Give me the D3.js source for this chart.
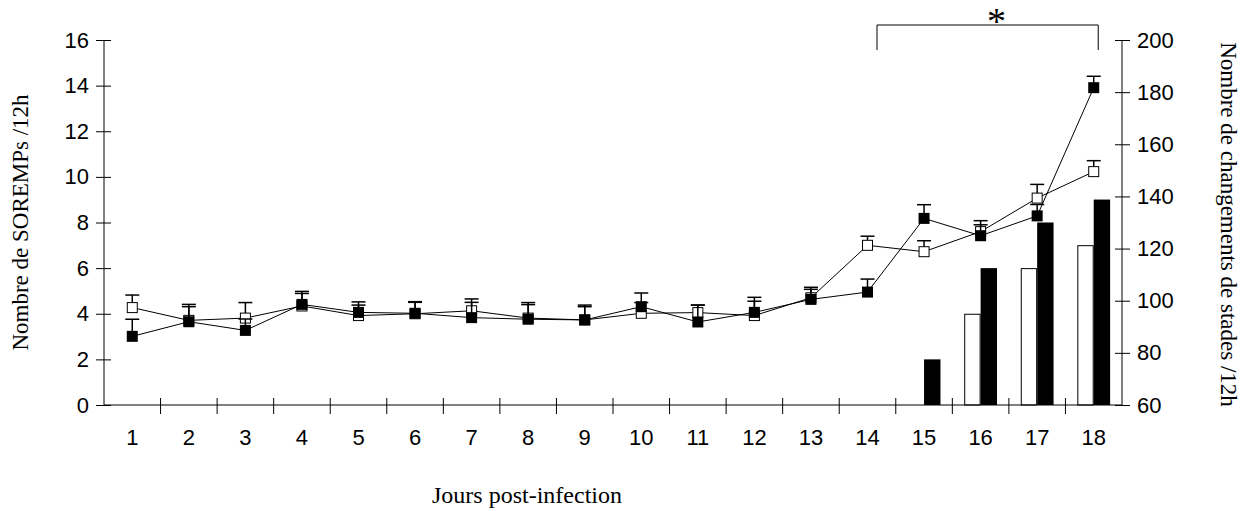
<!DOCTYPE html>
<html>
<head>
<meta charset="utf-8">
<script src="https://cdn.jsdelivr.net/npm/d3@7"></script>
<style>
  body { margin: 0; background: #fff; }
  svg { display: block; }
</style>
</head>
<body>
<svg id="chart" width="1253" height="511"></svg>
<script>
// Days post-infection
const days = ["1","2","3","4","5","6","7","8","9","10","11","12","13","14","15","16","17","18"];

// SOREMPs per 12h (left axis): mean and standard error, open and filled groups
const soremOpen     = [4.27, 3.71, 3.81, 4.34, 3.92, 4.00, 4.13, 3.81, 3.73, 4.02, 4.05, 3.92, 4.70, 7.00, 6.72, 7.60, 9.07, 10.23];
const soremOpenErr  = [0.55, 0.70, 0.68, 0.55, 0.60, 0.50, 0.52, 0.68, 0.65, 0.47, 0.33, 0.63, 0.46, 0.40, 0.48, 0.48, 0.60, 0.48];
const soremFilled    = [3.01, 3.65, 3.27, 4.41, 4.06, 4.02, 3.83, 3.76, 3.73, 4.31, 3.64, 4.06, 4.63, 4.95, 8.18, 7.42, 8.29, 13.91];
const soremFilledErr = [0.75, 0.66, 0.50, 0.57, 0.32, 0.51, 0.67, 0.64, 0.58, 0.60, 0.74, 0.66, 0.44, 0.57, 0.60, 0.48, 0.50, 0.50];

// Stage changes per 12h (right axis); null = no bar
const stageOpen   = [null, null, null, null, null, null, null, null, null, null, null, null, null, null, null, 95, 112.5, 121.3];
const stageFilled = [null, null, null, null, null, null, null, null, null, null, null, null, null, null, 77.5, 112.5, 130, 138.8];

const leftTicks  = [0, 2, 4, 6, 8, 10, 12, 14, 16];
const rightTicks = [60, 80, 100, 120, 140, 160, 180, 200];

const leftTitle  = "Nombre de SOREMPs /12h";
const rightTitle = "Nombre de changements de stades /12h";
const xTitle     = "Jours post-infection";

const W = 1253, H = 511;
const margin = { top: 40, right: 131, bottom: 106, left: 104 };
const x0 = margin.left, x1 = W - margin.right;
const y0 = H - margin.bottom, y1 = margin.top;

const svg = d3.select("#chart");

const x  = d3.scaleBand().domain(days).range([x0, x1]).padding(0);
const yL = d3.scaleLinear().domain([0, 16]).range([y0, y1]);
const yR = d3.scaleLinear().domain([60, 200]).range([y0, y1]);
const bw = x.bandwidth();
const cx = d => x(d) + bw / 2;
const barW = bw * 0.29;

const sans  = "'Liberation Sans', Arial, sans-serif";
const serif = "'Liberation Serif', 'Times New Roman', serif";
const ink = "#000";

// Bars (right axis)
const bars = svg.append("g");
bars.selectAll("rect.open")
  .data(days.map((d, i) => ({ d, v: stageOpen[i] })).filter(o => o.v != null))
  .join("rect")
  .attr("x", o => cx(o.d) - barW + 0.5)
  .attr("y", o => yR(o.v) + 0.5)
  .attr("width", barW - 1)
  .attr("height", o => yR(60) - yR(o.v) - 0.5)
  .attr("fill", "#fff").attr("stroke", ink).attr("stroke-width", 1);
bars.selectAll("rect.filled")
  .data(days.map((d, i) => ({ d, v: stageFilled[i] })).filter(o => o.v != null))
  .join("rect")
  .attr("x", o => cx(o.d))
  .attr("y", o => yR(o.v))
  .attr("width", barW)
  .attr("height", o => yR(60) - yR(o.v))
  .attr("fill", ink);

// Left axis
const axL = svg.append("g").attr("transform", `translate(${x0},0)`)
  .call(d3.axisLeft(yL).tickValues(leftTicks).tickSize(8).tickPadding(7).tickFormat(d3.format("d")));
axL.selectAll(".tick line").attr("x1", 7);
axL.select(".domain").attr("d", `M0,${y1}V${y0}`);
axL.selectAll("text").style("font-family", sans).style("font-size", "22px").attr("fill", ink);
axL.selectAll("line,path").attr("stroke", ink);

// Right axis
const axR = svg.append("g").attr("transform", `translate(${x1},0)`)
  .call(d3.axisRight(yR).tickValues(rightTicks).tickSize(8).tickPadding(7).tickFormat(d3.format("d")));
axR.selectAll(".tick line").attr("x1", -7);
axR.select(".domain").attr("d", `M0,${y1}V${y0}`);
axR.selectAll("text").style("font-family", sans).style("font-size", "22px").attr("fill", ink);
axR.selectAll("line,path").attr("stroke", ink);

// Bottom axis: labels at day centres, ticks at day boundaries
const axB = svg.append("g").attr("transform", `translate(0,${y0})`)
  .call(d3.axisBottom(x).tickSize(0).tickPadding(24));
axB.select(".domain").remove();
axB.selectAll("text").style("font-family", sans).style("font-size", "22px").attr("fill", ink);
const bounds = days.map(d => x(d)).concat([x(days[days.length - 1]) + bw]);
axB.append("line").attr("x1", x0).attr("x2", x1).attr("y1", 0).attr("y2", 0).attr("stroke", ink);
axB.selectAll("line.bound").data(bounds.slice(1, -1)).join("line")
  .attr("x1", d => d).attr("x2", d => d).attr("y1", -7).attr("y2", 9).attr("stroke", ink);

// Axis titles
svg.append("text")
  .attr("transform", `translate(28,${(y0 + y1) / 2}) rotate(-90)`)
  .attr("text-anchor", "middle")
  .style("font-family", serif).style("font-size", "23px").attr("fill", ink)
  .text(leftTitle);
svg.append("text")
  .attr("transform", `translate(1221,${(y0 + y1) / 2 + 2}) rotate(90)`)
  .attr("text-anchor", "middle")
  .style("font-family", serif).style("font-size", "23px").attr("fill", ink)
  .text(rightTitle);
svg.append("text")
  .attr("x", 527).attr("y", 503)
  .attr("text-anchor", "middle")
  .style("font-family", serif).style("font-size", "24px").attr("fill", ink)
  .text(xTitle);

// Line series with upward error bars
function drawSeries(vals, errs, filled) {
  const g = svg.append("g");
  const pts = days.map((d, i) => ({ d, v: vals[i], e: errs[i] }));
  g.append("path")
    .datum(pts)
    .attr("fill", "none").attr("stroke", ink).attr("stroke-width", 1)
    .attr("d", d3.line().x(p => cx(p.d)).y(p => yL(p.v)));
  g.selectAll("line.err").data(pts).join("line")
    .attr("x1", p => cx(p.d)).attr("x2", p => cx(p.d))
    .attr("y1", p => yL(p.v)).attr("y2", p => yL(p.v + p.e))
    .attr("stroke", ink).attr("stroke-width", 1.5);
  g.selectAll("line.cap").data(pts).join("line")
    .attr("x1", p => cx(p.d) - 7).attr("x2", p => cx(p.d) + 7)
    .attr("y1", p => yL(p.v + p.e)).attr("y2", p => yL(p.v + p.e))
    .attr("stroke", ink).attr("stroke-width", 1.5);
  const s = filled ? 11 : 10;
  g.selectAll("rect").data(pts).join("rect")
    .attr("x", p => cx(p.d) - s / 2).attr("y", p => yL(p.v) - s / 2)
    .attr("width", s).attr("height", s)
    .attr("fill", filled ? ink : "#fff")
    .attr("stroke", filled ? "none" : ink).attr("stroke-width", 1);
}
drawSeries(soremOpen, soremOpenErr, false);
drawSeries(soremFilled, soremFilledErr, true);

// Significance bracket over days 14 to 18
const bx0 = cx("14") + 9.5, bx1 = cx("18") + 4.5;
svg.append("path")
  .attr("d", `M${bx0},50V25H${bx1}V50`)
  .attr("fill", "none").attr("stroke", ink).attr("stroke-width", 1);
svg.append("text")
  .attr("x", (bx0 + bx1) / 2 + 9).attr("y", 34)
  .attr("text-anchor", "middle")
  .style("font-family", serif).style("font-size", "38px").attr("fill", ink)
  .text("*");
</script>
</body>
</html>
